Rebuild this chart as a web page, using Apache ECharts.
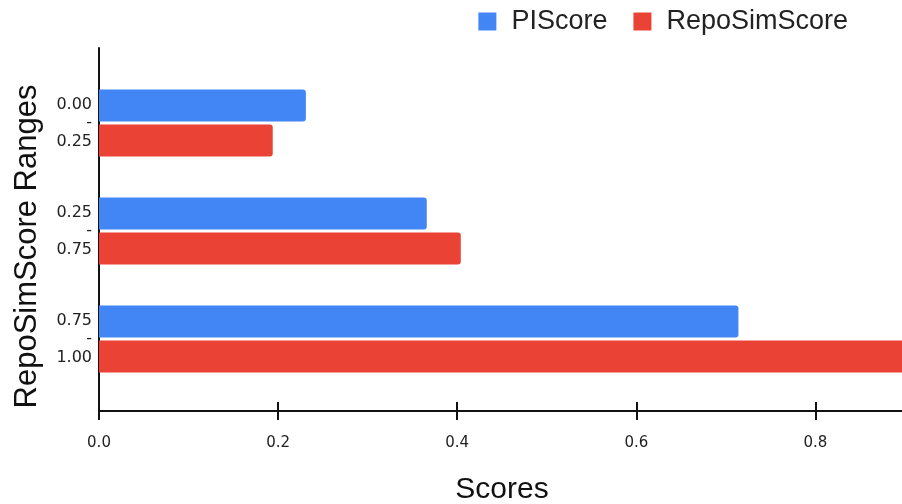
<!DOCTYPE html>
<html>
<head>
<meta charset="utf-8">
<script src="https://cdn.jsdelivr.net/npm/echarts@6/dist/echarts.min.js"></script>
<style>
  html, body { margin: 0; padding: 0; background: #fff; }
  #chart { width: 902px; height: 504px; }
</style>
</head>
<body>
<div id="chart"></div>
<script>
  // score ranges, top to bottom
  var ranges = ['0.00\n-\n0.25', '0.25\n-\n0.75', '0.75\n-\n1.00'];
  var piScore = [0.231, 0.366, 0.714];
  var repoSimScore = [0.194, 0.404, 0.9];
  var xTicks = [0, 0.2, 0.4, 0.6, 0.8];

  var font = 'Liberation Sans, Arial, sans-serif';
  var tickFont = 'DejaVu Sans, sans-serif';
  var chart = echarts.init(document.getElementById('chart'));

  chart.setOption({
    animation: false,
    textStyle: { fontFamily: font },
    legend: {
      right: 49,
      top: 3,
      itemWidth: 18,
      itemHeight: 18,
      itemGap: 26,
      icon: 'rect',
      textStyle: { fontSize: 27, color: '#222', fontFamily: font, padding: [0, 0, 0, 10] },
      data: ['PIScore', 'RepoSimScore']
    },
    grid: [
      // axes frame
      { left: 99, right: -3, top: 48, bottom: 93, outerBoundsMode: 'none' },
      // bars
      { left: 99, right: -3, top: 69, bottom: 111, outerBoundsMode: 'none' }
    ],
    xAxis: [
      {
        gridIndex: 0,
        type: 'value',
        min: 0,
        max: 0.9,
        interval: 0.2,
        name: 'Scores',
        nameLocation: 'middle',
        nameGap: 64,
        nameTextStyle: { fontSize: 30, color: '#111', fontFamily: font },
        axisLine: { show: true, lineStyle: { color: '#111', width: 2 } },
        axisTick: { show: true, inside: false, length: 9, lineStyle: { color: '#111', width: 2 } },
        axisLabel: {
          fontSize: 15, color: '#222', margin: 25, fontFamily: tickFont,
          formatter: function (v) { return xTicks.indexOf(+v.toFixed(1)) >= 0 ? v.toFixed(1) : ''; }
        },
        splitLine: { show: false }
      },
      {
        gridIndex: 1,
        type: 'value',
        min: 0,
        max: 0.9,
        interval: 0.2,
        position: 'bottom',
        offset: 18,
        axisLine: { show: false },
        axisTick: { show: true, inside: true, length: 9, lineStyle: { color: '#111', width: 2 } },
        axisLabel: { show: false },
        splitLine: { show: false }
      }
    ],
    yAxis: [
      {
        gridIndex: 0,
        type: 'value',
        name: 'RepoSimScore Ranges',
        nameLocation: 'middle',
        nameGap: 56,
        nameTextStyle: { fontSize: 31, color: '#111', fontFamily: font, padding: [0, 34, 0, 0] },
        axisLine: { show: true, lineStyle: { color: '#111', width: 2 } },
        axisTick: { show: false },
        axisLabel: { show: false },
        splitLine: { show: false }
      },
      {
        gridIndex: 1,
        type: 'category',
        inverse: true,
        data: ranges,
        axisLine: { show: false },
        axisTick: { show: false },
        axisLabel: {
          fontSize: 16, color: '#222', margin: 7, lineHeight: 18.5, align: 'right',
          fontFamily: tickFont
        }
      }
    ],
    series: [
      {
        name: 'PIScore',
        type: 'bar',
        xAxisIndex: 1,
        yAxisIndex: 1,
        data: piScore,
        barWidth: 32,
        barGap: '10%',
        itemStyle: { color: '#4285F4', borderRadius: [0, 3, 3, 0] }
      },
      {
        name: 'RepoSimScore',
        type: 'bar',
        xAxisIndex: 1,
        yAxisIndex: 1,
        data: repoSimScore,
        barWidth: 32,
        barGap: '10%',
        itemStyle: { color: '#EA4335', borderRadius: [0, 3, 3, 0] }
      }
    ]
  });
</script>
</body>
</html>
